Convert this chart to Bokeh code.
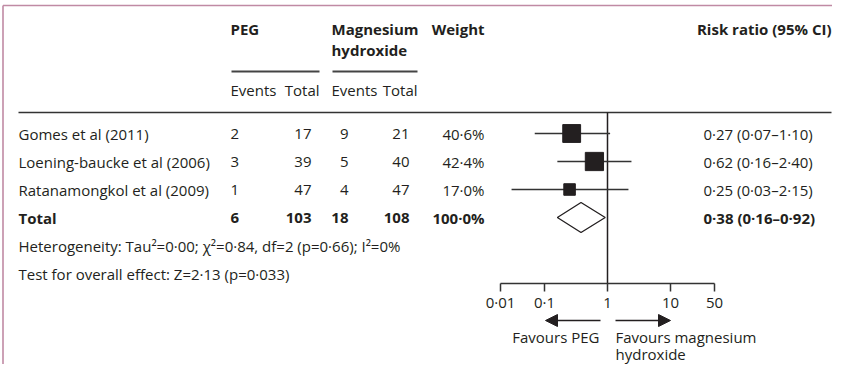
from bokeh.plotting import figure
from bokeh.models import Range1d, LogScale, LogAxis, FixedTicker, Arrow, NormalHead
from bokeh.core.properties import value
from bokeh.embed import file_html
from bokeh.resources import INLINE
import math

# ---------------- data ----------------
studies = ["Gomes et al (2011)", "Loening-baucke et al (2006)", "Ratanamongkol et al (2009)"]
peg_events = [2, 3, 1]
peg_total = [17, 39, 47]
mg_events = [9, 5, 4]
mg_total = [21, 40, 47]
weights = [40.6, 42.4, 17.0]
rr = [0.27, 0.62, 0.25]
rr_lo = [0.07, 0.16, 0.03]
rr_hi = [1.10, 2.40, 2.15]

total_label = "Total"
tot_peg_events = 6
tot_peg_total = 103
tot_mg_events = 18
tot_mg_total = 108
tot_weight = 100.0
tot_rr = 0.38
tot_lo = 0.16
tot_hi = 0.92

heterogeneity = "Heterogeneity: Tau\u00b2=0\u00b700; \u03c7\u00b2=0\u00b784, df=2 (p=0\u00b766); I\u00b2=0%"
overall = "Test for overall effect: Z=2\u00b713 (p=0\u00b7033)"

axis_ticks = [0.02, 0.1, 1, 10, 50]
axis_labels = ["0\u00b701", "0\u00b71", "1", "10", "50"]

# ---------------- helpers ----------------
def dot(v, nd=2):
    return f"{v:.{nd}f}".replace(".", "\u00b7")

def ci_text(e, l, h):
    return f"{dot(e)} ({dot(l)}\u2013{dot(h)})"

FONT = value("Open Sans")
INK = "#231f20"
FS = "15px"

W, H = 832, 364
p = figure(width=W, height=H, x_range=Range1d(0, W), y_range=Range1d(H, 0),
           x_axis_type=None, y_axis_type=None, toolbar_location=None,
           output_backend="svg", min_border=0)
p.outline_line_color = None
p.grid.visible = False
p.background_fill_color = "white"

# log scale for the forest part: 1 at x=607, 63 px per decade
px_per_dec = 63.0
x_one = 607.0
p.extra_x_ranges = {"rr": Range1d(start=10 ** ((0 - x_one) / px_per_dec),
                                  end=10 ** ((W - x_one) / px_per_dec))}
p.extra_x_scales = {"rr": LogScale()}

# frame border (top + left)
BORDER = "#c08aa4"
p.segment(x0=[2.5, 2.5], y0=[5, 5], x1=[W, 2.5], y1=[5, H], line_color=BORDER, line_width=1.6)

def txt(x, y, t, align="left", bold=False, size=FS):
    p.text(x=x, y=y, text=t, text_align=align, text_baseline="middle",
           text_font=FONT, text_font_size=size, text_color=INK,
           text_font_style="bold" if bold else "normal")

# headers
txt([230], [28], ["PEG"], bold=True)
txt([331, 331], [28, 49], ["Magnesium", "hydroxide"], bold=True)
txt([484], [28], ["Weight"], bold=True, align="right")
txt([831], [28], ["Risk ratio (95% CI)"], bold=True, align="right")
txt([230, 331], [89, 89], ["Events", "Events"])
txt([319, 417], [89, 89], ["Total", "Total"], align="right")

p.segment(x0=[231, 332], x1=[319, 417], y0=[71, 71], y1=[71, 71], line_color="#444444", line_width=2)
p.segment(x0=[18], x1=[831], y0=[112], y1=[112], line_color="#333333", line_width=1.5)

# study rows
row_y = [133, 161, 189]
tot_y = 217
txt([18] * 3, row_y, studies)
txt([230] * 3, row_y, [str(v) for v in peg_events])
txt([311] * 3, row_y, [str(v) for v in peg_total], align="right")
txt([348] * 3, row_y, [str(v) for v in mg_events], align="right")
txt([409] * 3, row_y, [str(v) for v in mg_total], align="right")
txt([484] * 3, row_y, [dot(w, 1) + "%" for w in weights], align="right")
txt([703] * 3, row_y, [ci_text(e, l, h) for e, l, h in zip(rr, rr_lo, rr_hi)])

# total row
txt([18], [tot_y], [total_label], bold=True)
txt([230], [tot_y], [str(tot_peg_events)], bold=True)
txt([311], [tot_y], [str(tot_peg_total)], align="right", bold=True)
txt([348], [tot_y], [str(tot_mg_events)], align="right", bold=True)
txt([409], [tot_y], [str(tot_mg_total)], align="right", bold=True)
txt([484], [tot_y], [dot(tot_weight, 1) + "%"], align="right", bold=True)
txt([703], [tot_y], [ci_text(tot_rr, tot_lo, tot_hi)], bold=True)

txt([18], [245], [heterogeneity])
txt([18], [273], [overall])

# forest plot
p.segment(x0=[1], x1=[1], y0=[112], y1=[283], x_range_name="rr", line_color=INK, line_width=1.5)
p.segment(x0=rr_lo, x1=rr_hi, y0=row_y, y1=row_y, x_range_name="rr", line_color="#333333", line_width=1.5)
p.scatter(x=rr, y=row_y, size=[2.8 * math.sqrt(w) for w in weights], marker="square",
          x_range_name="rr", fill_color=INK, line_color=INK)
p.patch(x=[tot_lo, tot_rr, tot_hi, tot_rr], y=[tot_y, tot_y - 15, tot_y, tot_y + 15],
        x_range_name="rr", fill_color="white", line_color=INK, line_width=1.3)

ax = LogAxis(x_range_name="rr", fixed_location=283,
             ticker=FixedTicker(ticks=axis_ticks),
             major_label_overrides={t: l for t, l in zip(axis_ticks, axis_labels)},
             bounds=(axis_ticks[0], axis_ticks[-1]))
ax.axis_line_color = "#333333"
ax.axis_line_width = 1.5
ax.major_tick_line_color = "#333333"
ax.major_tick_line_width = 1.5
ax.major_tick_in = 0
ax.major_tick_out = 8
ax.minor_tick_line_color = None
ax.major_label_standoff = 0
ax.major_label_text_font = "Open Sans"
ax.major_label_text_font_size = FS
ax.major_label_text_color = INK
p.add_layout(ax, "below")

# direction arrows
p.add_layout(Arrow(end=NormalHead(size=12, fill_color=INK, line_color=INK),
                   x_start=600, y_start=320, x_end=545, y_end=320,
                   line_color=INK, line_width=1.5))
p.add_layout(Arrow(end=NormalHead(size=12, fill_color=INK, line_color=INK),
                   x_start=615, y_start=320, x_end=670, y_end=320,
                   line_color=INK, line_width=1.5))
txt([599], [336], ["Favours PEG"], align="right")
txt([615, 615], [336, 353], ["Favours magnesium", "hydroxide"])

open("out.html", "w").write(file_html(p, INLINE))
